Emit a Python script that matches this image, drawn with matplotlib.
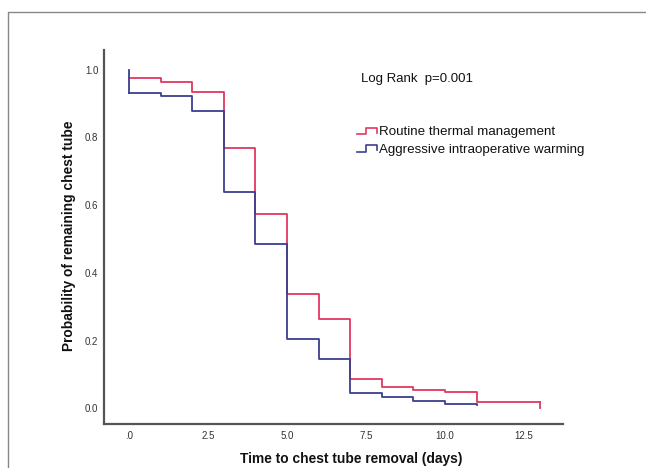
import matplotlib
matplotlib.use("Agg")
import matplotlib.pyplot as plt
from matplotlib.lines import Line2D

plt.rcParams['font.family'] = ['Liberation Sans', 'DejaVu Sans']

# Kaplan-Meier step data (value holds from time t[i] until t[i+1])
routine_t = [0, 1, 2, 3, 4, 5, 6, 7, 8, 9, 10, 11, 13]
routine_s = [0.975, 0.963, 0.935, 0.768, 0.574, 0.338, 0.263, 0.088, 0.062, 0.055, 0.048, 0.020, 0.0]
warm_t = [0, 1, 2, 3, 4, 5, 6, 7, 8, 9, 10, 11]
warm_s = [0.931, 0.923, 0.878, 0.639, 0.484, 0.206, 0.147, 0.046, 0.034, 0.021, 0.013, 0.009]

xticks = [0, 2.5, 5.0, 7.5, 10.0, 12.5]
xticklabels = ['.0', '2.5', '5.0', '7.5', '10.0', '12.5']
yticks = [0.0, 0.2, 0.4, 0.6, 0.8, 1.0]
yticklabels = ['0.0', '0.2', '0.4', '0.6', '0.8', '1.0']

red = '#e0385f'
blue = '#3c3f8f'

fig = plt.figure(figsize=(6.46, 4.68), dpi=100)
ax = fig.add_axes([104/646, 1-424/468, (563-104)/646, (424-50)/468])

# routine thermal management: last step ends with a drop at final time
ax.step(routine_t[:-1] + [routine_t[-1]], routine_s[:-1] + [routine_s[-2]], where='post', color=red, lw=1.3)
ax.plot([routine_t[-1], routine_t[-1]], [routine_s[-2], routine_s[-1]], color=red, lw=1.3)
# aggressive warming: starts with vertical at 1.0
ax.plot([0, 0], [1.0, warm_s[0]], color=blue, lw=1.3)
ax.step(warm_t, warm_s, where='post', color=blue, lw=1.3)

ax.set_xlim(-0.79, 13.73)
ax.set_ylim(-0.046, 1.058)
ax.set_xticks(xticks)
ax.set_xticklabels(xticklabels, fontsize=7, color='#333333')
ax.set_yticks(yticks)
ax.set_yticklabels(yticklabels, fontsize=7, color='#333333')
ax.tick_params(axis='x', length=0, pad=5)
ax.tick_params(axis='y', length=0, pad=4)
for s in ['top', 'right']:
    ax.spines[s].set_visible(False)
for s in ['left', 'bottom']:
    ax.spines[s].set_color('#555555')
    ax.spines[s].set_linewidth(1.6)

def fx(px):
    return px / 646
def fy(py):
    return 1 - py / 468

fig.text(fx(351), fy(459), 'Time to chest tube removal (days)', fontsize=9.9, fontweight='bold',
         ha='center', va='center', color='#111111')
fig.text(fx(69), fy(236), 'Probability of remaining chest tube', fontsize=9.9, fontweight='bold',
         ha='center', va='center', rotation=90, color='#111111')

fig.text(fx(361), fy(79), 'Log Rank  p=0.001', fontsize=9.5, va='center', ha='left', color='#111111')
for i, (lab, c) in enumerate([('Routine thermal management', red), ('Aggressive intraoperative warming', blue)]):
    off = i * 17.5
    xs = [fx(356.7), fx(366), fx(366), fx(376.7), fx(376.7)]
    ys = [fy(134.3 + off), fy(134.3 + off), fy(127.7 + off), fy(127.7 + off), fy(132.7 + off)]
    fig.add_artist(Line2D(xs, ys, color=c, lw=1.2, transform=fig.transFigure))
    fig.text(fx(379), fy(132 + off), lab, fontsize=9.6, va='center', ha='left', color='#111111')

# figure border (top and left)
fig.add_artist(Line2D([fx(8), fx(8), 1.0], [0.0, fy(12), fy(12)], color='#888888', lw=1.0, transform=fig.transFigure))

fig.savefig('out.png', dpi=100)
